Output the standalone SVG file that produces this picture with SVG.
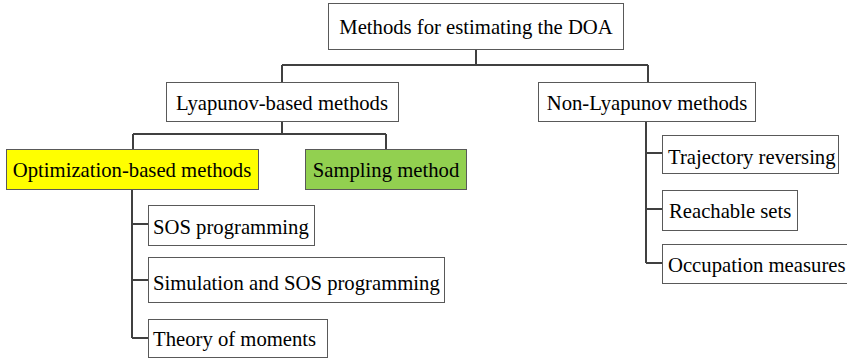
<svg xmlns="http://www.w3.org/2000/svg" width="847" height="359" viewBox="0 0 847 359">
  <style>
    .box { stroke: #595959; stroke-width: 1; fill: #ffffff; }
    .lbl { font-family: Tinos, 'Liberation Serif', 'Nimbus Roman', FreeSerif, Times, 'Noto Serif', serif; font-size: 20.7px; fill: #000000; }
    .wire { stroke: #404040; stroke-width: 2; fill: none; }
  </style>
  <rect width="847" height="359" fill="#ffffff"/>

  <!-- connectors -->
  <g id="connectors">
    <path class="wire" d="M476,49 V65 M282,65 H648 M282,65 V82 M648,65 V82"/>
    <path class="wire" d="M282,121 V134 M133,134 H386 M133,134 V149 M386,134 V150"/>
    <path class="wire" d="M132,190 V338 M132,224 H148 M132,280 H148 M132,338 H148"/>
    <path class="wire" d="M646,121 V263 M646,153 H662 M646,209 H662 M646,263 H662"/>
  </g>

  <g id="root">
    <rect class="box" x="328.5" y="3.5" width="295" height="46"/>
    <text class="lbl" x="476" y="34" text-anchor="middle">Methods for estimating the DOA</text>
  </g>
  <g id="lyapunov">
    <rect class="box" x="166.5" y="82.5" width="232" height="39"/>
    <text class="lbl" x="282" y="110" text-anchor="middle">Lyapunov-based methods</text>
  </g>
  <g id="non-lyapunov">
    <rect class="box" x="538.5" y="82.5" width="217" height="39"/>
    <text class="lbl" x="647" y="110" text-anchor="middle">Non-Lyapunov methods</text>
  </g>
  <g id="optimization">
    <rect class="box" x="6.5" y="149.5" width="252" height="40" style="fill:#ffff00"/>
    <text class="lbl" x="132" y="177" text-anchor="middle">Optimization-based methods</text>
  </g>
  <g id="sampling">
    <rect class="box" x="305.5" y="149.5" width="161" height="40" style="fill:#92d050"/>
    <text class="lbl" x="386" y="177" text-anchor="middle">Sampling method</text>
  </g>
  <g id="sos">
    <rect class="box" x="148.5" y="205.5" width="166" height="40"/>
    <text class="lbl" x="153" y="234">SOS programming</text>
  </g>
  <g id="simulation">
    <rect class="box" x="148.5" y="257.5" width="296" height="45"/>
    <text class="lbl" x="153" y="290">Simulation and SOS programming</text>
  </g>
  <g id="moments">
    <rect class="box" x="148.5" y="319.5" width="179" height="38"/>
    <text class="lbl" x="153" y="346">Theory of moments</text>
  </g>
  <g id="trajectory">
    <rect class="box" x="662.5" y="135.5" width="176" height="38"/>
    <text class="lbl" x="668" y="164">Trajectory reversing</text>
  </g>
  <g id="reachable">
    <rect class="box" x="662.5" y="190.5" width="135" height="40"/>
    <text class="lbl" x="669" y="218">Reachable sets</text>
  </g>
  <g id="occupation">
    <rect class="box" x="662.5" y="244.5" width="190" height="39"/>
    <text class="lbl" x="668" y="272">Occupation measures</text>
  </g>
</svg>
